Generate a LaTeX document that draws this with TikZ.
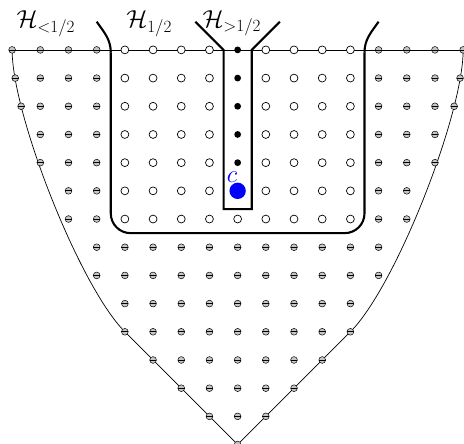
\documentclass[tikz,border=0pt]{standalone}
\usepackage{tikz}
\usetikzlibrary{arrows.meta}

\tikzset{
  negpt/.pic={
    \draw[line width=0.5pt,fill=gray!45] (0,0) circle (0.12);
    \draw[line width=0.7pt] (-0.12,0) -- (0.12,0);
  },
  openpt/.style={draw,fill=white,line width=0.7pt},
  rim/.style={line width=0.7pt},
  wall/.style={line width=2.1pt},
  hlabel/.style={anchor=base west,inner sep=0pt,font=\fontsize{25}{30}\selectfont},
}

\begin{document}
\begin{tikzpicture}[x=1cm,y=1cm,>=Latex]
  \useasboundingbox (-8.43,-13.97) rectangle (8.03,1.77);
  % 上边界与两侧曲线
  \draw[rim] (-8,0) -- (8,0);
  \draw[rim] (-8,0) .. controls (-8,-2.3) and (-5.6,-8.4) .. (-4,-10) -- (0,-14);
  \draw[rim] (8,0) .. controls (8,-2.3) and (5.6,-8.4) .. (4,-10) -- (0,-14);
  % 粗线：U 形区域
  \draw[wall] (-5,1) to[out=-55,in=90] (-4.5,-0.1);
  \draw[wall,rounded corners=0.7cm] (-4.5,-0.1) -- (-4.5,-6.5) -- (4.5,-6.5) -- (4.5,-0.1);
  \draw[wall] (5,1) to[out=-125,in=90] (4.5,-0.1);
  % 粗线：中间窄条
  \draw[wall] (-1.5,1) -- (-0.5,0) -- (-0.5,-5.65) -- (0.5,-5.65) -- (0.5,0) -- (1.5,1);
  % 负点（两侧）
  \foreach \y/\a/\b in {0/8/5,1/7/5,2/7/5,3/7/5,4/7/5,5/6/5,6/6/5}
    \foreach \x in {\b,...,\a} {
      \pic at (\x,-\y) {negpt};
      \pic at (-\x,-\y) {negpt};
    }
  \foreach \x/\y in {-7.89/-1,7.89/-1,-7.68/-2,7.68/-2}
    \pic at (\x,\y) {negpt};
  % 负点（下部）
  \foreach \y/\a in {7/5,8/5,9/4,10/4,11/3,12/2,13/1}
    \foreach \x in {-\a,...,\a}
      \pic at (\x,-\y) {negpt};
  \pic at (0,-14) {negpt};
  % 空心点
  \foreach \y in {0,...,6}
    \foreach \x in {-4,-3,-2,-1,1,2,3,4}
      \draw[openpt] (\x,-\y) circle (0.14);
  \draw[openpt] (0,-6) circle (0.14);
  % 实心点
  \foreach \y in {0,...,4}
    \fill (0,-\y) circle (0.12);
  % 点 c
  \node[circle,fill=blue,inner sep=0pt,minimum size=0.58cm] (c) at (0,-5) {};
  \node[blue,inner sep=0pt,font=\fontsize{24}{28}\selectfont] (clab) at (-0.2,-4.5) {$c$};
  % 标签
  \node[hlabel] (hlow) at (-7.85,0.78) {$\mathcal{H}_{<1/2}$};
  \node[hlabel] (hmid) at (-3.95,0.78) {$\mathcal{H}_{1/2}$};
  \node[hlabel] (hup) at (-1.25,0.8) {$\mathcal{H}_{>1/2}$};
\end{tikzpicture}
\end{document}
